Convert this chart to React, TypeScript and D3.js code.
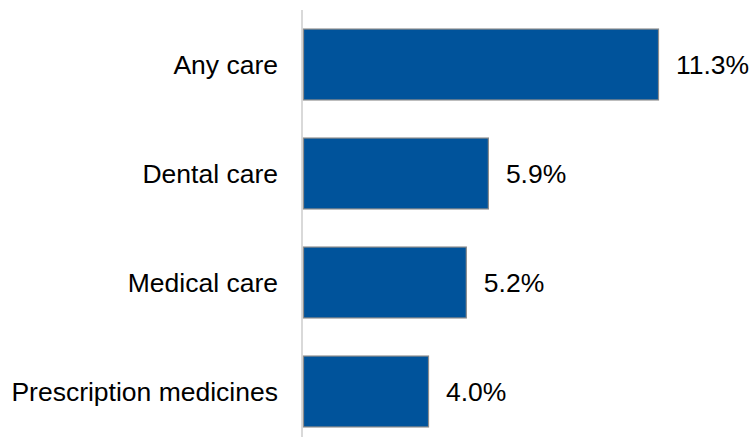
import React from "react";
import * as d3 from "d3";

const categories = ["Any care", "Dental care", "Medical care", "Prescription medicines"];
const values = [11.3, 5.9, 5.2, 4.0];
const valueLabels = ["11.3%", "5.9%", "5.2%", "4.0%"];

export default function App() {
  const W = 752, H = 437;
  const x = d3.scaleLinear().domain([0, 11.3]).range([303, 659]);
  const y = d3.scaleBand<string>().domain(categories).range([10, 446]).paddingInner(0.34).paddingOuter(0.17);
  const font = "Arial, 'Liberation Sans', sans-serif";
  return (
    <svg width={W} height={H} style={{ position: "absolute", left: 0, top: 0 }}>
      <rect x={0} y={0} width={W} height={H} fill="#fff" />
      <line x1={302} x2={302} y1={10} y2={437} stroke="#d9d9d9" strokeWidth={2} />
      {categories.map((c, i) => {
        const y0 = y(c)!;
        const bw = y.bandwidth();
        const cy = y0 + bw / 2;
        return (
          <g key={c}>
            <rect x={x(0) + 0.5} y={y0 + 0.5} width={x(values[i]) - x(0) - 1} height={bw - 1}
              fill="#00539b" stroke="#8c8c8c" strokeWidth={1.2} />
            <text x={278} y={cy} dy="0.35em" textAnchor="end" fontFamily={font} fontSize={26.5} fill="#000">{c}</text>
            <text x={x(values[i]) + 17} y={cy} dy="0.35em" textAnchor="start" fontFamily={font} fontSize={26.5} fill="#000">{valueLabels[i]}</text>
          </g>
        );
      })}
    </svg>
  );
}
